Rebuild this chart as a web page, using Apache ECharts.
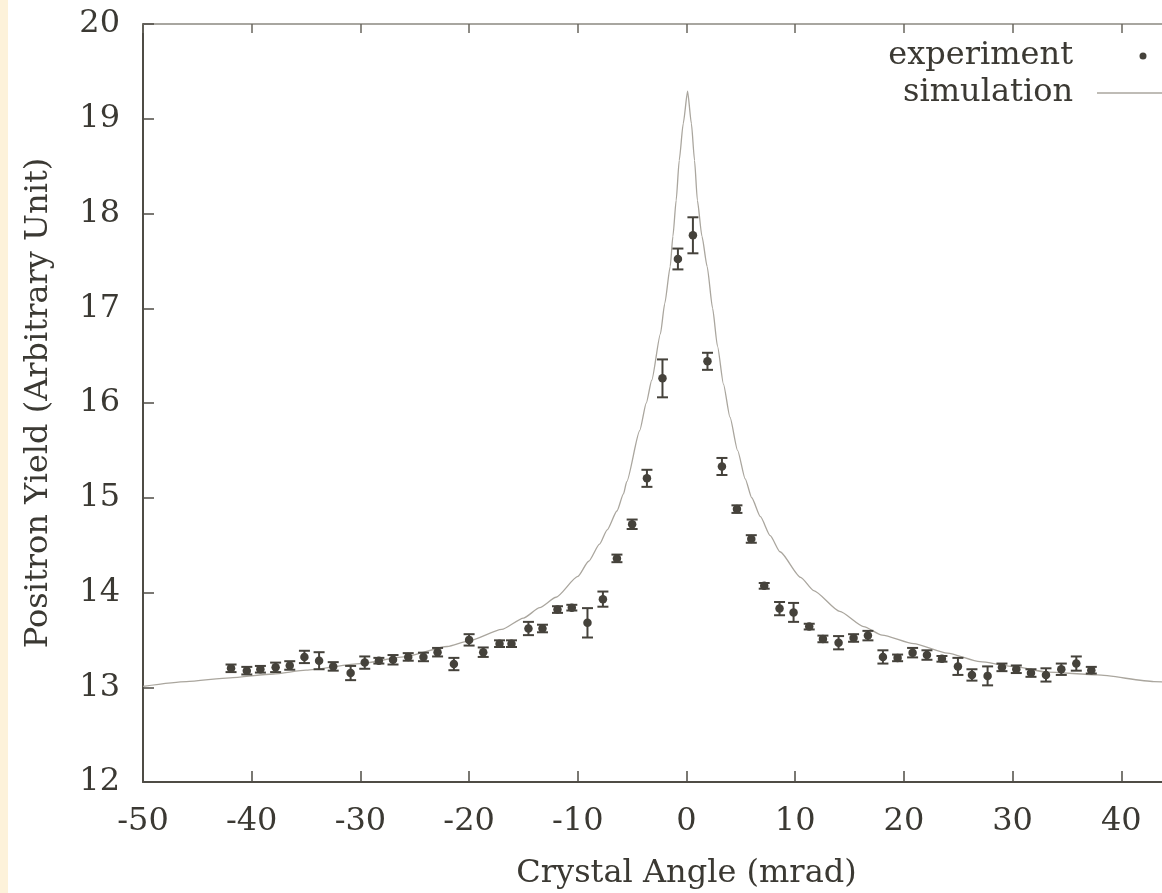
<!DOCTYPE html>
<html>
<head>
<meta charset="utf-8">
<script src="https://cdn.jsdelivr.net/npm/echarts@6/dist/echarts.min.js"></script>
<style>
  html, body { margin: 0; padding: 0; }
  body { background: linear-gradient(to right, #fdf2da 0, #fdf2da 8px, #ffffff 8px); }
  #chart { width: 1162px; height: 893px; }
</style>
</head>
<body>
<div id="chart"></div>
<script>
// Experiment: crystal angle (mrad), positron yield, error
const expX = [-41.9, -40.45, -39.2, -37.8, -36.5, -35.15, -33.8, -32.5, -30.9, -29.6,
  -28.3, -27.0, -25.6, -24.2, -22.9, -21.4, -20.0, -18.7, -17.2, -16.1,
  -14.54, -13.25, -11.87, -10.55, -9.11, -7.69, -6.4, -5.0, -3.64, -2.21,
  -0.79, 0.59, 1.93, 3.26, 4.64, 5.96, 7.15, 8.56, 9.85, 11.29,
  12.55, 13.99, 15.37, 16.69, 18.07, 19.42, 20.8, 22.12, 23.5, 24.97,
  26.26, 27.7, 29.02, 30.34, 31.69, 33.07, 34.48, 35.86, 37.24];
const expY = [13.20, 13.175, 13.19, 13.21, 13.23, 13.32, 13.28, 13.22, 13.15, 13.26,
  13.28, 13.29, 13.32, 13.32, 13.37, 13.245, 13.50, 13.37, 13.46, 13.46,
  13.62, 13.62, 13.82, 13.84, 13.68, 13.93, 14.36, 14.72, 15.205, 16.26,
  17.52, 17.77, 16.44, 15.33, 14.88, 14.565, 14.07, 13.83, 13.79, 13.64,
  13.51, 13.47, 13.52, 13.545, 13.32, 13.31, 13.365, 13.34, 13.30, 13.22,
  13.13, 13.12, 13.21, 13.19, 13.15, 13.13, 13.19, 13.25, 13.18];
const expErr = [0.04, 0.04, 0.035, 0.05, 0.045, 0.065, 0.09, 0.045, 0.075, 0.065,
  0.03, 0.05, 0.04, 0.045, 0.045, 0.065, 0.06, 0.05, 0.035, 0.035,
  0.07, 0.04, 0.035, 0.03, 0.155, 0.08, 0.04, 0.05, 0.09, 0.2,
  0.11, 0.19, 0.09, 0.09, 0.04, 0.04, 0.03, 0.07, 0.1, 0.03,
  0.035, 0.07, 0.04, 0.05, 0.07, 0.035, 0.05, 0.05, 0.03, 0.09,
  0.06, 0.1, 0.04, 0.04, 0.04, 0.07, 0.06, 0.075, 0.035];

// Simulation curve
const simX = [-50, -46, -42, -38, -35, -30, -26, -22, -20, -17,
  -15, -13.5, -12, -10, -9, -8, -7.3, -6.4, -5.8, -5.5,
  -4.3, -3.7, -3.2, -2.4, -2.0, -1.5, -1.25, -0.95, -0.67, -0.3,
  0.1, 0.45, 0.74, 1.0, 1.42, 1.9, 2.4, 2.85, 3.4, 4.0,
  4.7, 5.4, 6.0, 6.8, 7.7, 8.6, 10.5, 11.7, 14.1, 16.3,
  18, 20.9, 24, 27, 30, 33.2, 37.8, 43, 50];
const simY = [13.01, 13.06, 13.10, 13.14, 13.18, 13.25, 13.32, 13.43, 13.49, 13.61,
  13.73, 13.84, 13.95, 14.17, 14.33, 14.51, 14.66, 14.86, 15.04, 15.17,
  15.71, 16.00, 16.24, 16.73, 17.05, 17.44, 17.76, 18.14, 18.56, 18.95,
  19.29, 18.95, 18.56, 18.14, 17.76, 17.44, 17.00, 16.60, 16.20, 15.85,
  15.50, 15.20, 15.00, 14.80, 14.60, 14.43, 14.16, 14.02, 13.80, 13.64,
  13.55, 13.46, 13.36, 13.27, 13.22, 13.16, 13.13, 13.06, 13.00];

const xTitle = 'Crystal Angle (mrad)';
const yTitle = 'Positron Yield (Arbitrary Unit)';

const FONT = 'DejaVu Serif';
const TXT = '#3b3933';
const PT = '#45423b';
const SIM = '#aaa69e';

const expData = expX.map((x, i) => [x, expY[i], expErr[i]]);
const simData = simX.map((x, i) => [x, simY[i]]);

const chart = echarts.init(document.getElementById('chart'), null, { renderer: 'canvas' });

const legendText = { fontFamily: FONT, fontSize: 32, color: TXT, lineHeight: 32, padding: [0, 19, 0, 0] };

chart.setOption({
  backgroundColor: 'transparent',
  animation: false,
  grid: { left: 143, top: 24, right: -68, bottom: 111, outerBoundsMode: 'none', containLabel: false },
  legend: [
    {
      data: [{ name: 'experiment', icon: 'circle' }],
      right: 15.5, top: 40, padding: 0,
      align: 'right', itemWidth: 92, itemHeight: 7,
      selectedMode: false,
      textStyle: legendText
    },
    {
      data: [{ name: 'simulation', icon: 'rect' }],
      right: -27, top: 77, padding: 0,
      align: 'right', itemWidth: 92, itemHeight: 1.3,
      selectedMode: false,
      textStyle: legendText
    }
  ],
  xAxis: [
    {
      type: 'value', position: 'bottom', min: -50, max: 50, interval: 10,
      name: xTitle, nameLocation: 'middle', nameGap: 76,
      nameTextStyle: { fontFamily: FONT, fontSize: 32, color: TXT },
      axisLine: { show: true, onZero: false, lineStyle: { color: '#4f4c45', width: 2 } },
      axisTick: { show: true, inside: true, length: 11, lineStyle: { color: '#4f4c45', width: 1.5 } },
      axisLabel: { fontFamily: FONT, fontSize: 32, color: TXT, margin: 24 },
      splitLine: { show: false }
    },
    {
      type: 'value', position: 'top', min: -50, max: 50, interval: 10,
      axisLine: { show: true, onZero: false, lineStyle: { color: '#8c8981', width: 1.5 } },
      axisTick: { show: true, inside: true, length: 9, lineStyle: { color: '#6a675f', width: 1.5 } },
      axisLabel: { show: false },
      splitLine: { show: false }
    }
  ],
  yAxis: {
    type: 'value', min: 12, max: 20, interval: 1, position: 'left',
    name: yTitle, nameLocation: 'middle', nameGap: 88, nameRotate: 90,
    nameTextStyle: { fontFamily: FONT, fontSize: 32, color: TXT },
    axisLine: { show: true, onZero: false, lineStyle: { color: '#4f4c45', width: 2 } },
    axisTick: { show: true, inside: true, length: 11, lineStyle: { color: '#4f4c45', width: 1.5 } },
    axisLabel: { fontFamily: FONT, fontSize: 32, color: TXT, margin: 23 },
    splitLine: { show: false }
  },
  series: [
    {
      name: 'simulation', type: 'line', xAxisIndex: 0, data: simData,
      symbol: 'none', smooth: 0.2, smoothMonotone: 'x',
      lineStyle: { color: SIM, width: 1.3 },
      itemStyle: { color: SIM },
      z: 2
    },
    {
      name: 'experiment errors', type: 'custom', xAxisIndex: 0, data: expData,
      encode: { x: 0, y: 1 },
      itemStyle: { color: PT },
      z: 3,
      renderItem: function (params, api) {
        const x = api.value(0), y = api.value(1), e = api.value(2);
        const c = api.coord([x, y]);
        const hi = api.coord([x, y + e]);
        const lo = api.coord([x, y - e]);
        const cap = 5.5;
        const ls = { stroke: PT, lineWidth: 2 };
        return {
          type: 'group',
          children: [
            { type: 'line', shape: { x1: c[0], y1: hi[1], x2: c[0], y2: lo[1] }, style: ls },
            { type: 'line', shape: { x1: c[0] - cap, y1: hi[1], x2: c[0] + cap, y2: hi[1] }, style: ls },
            { type: 'line', shape: { x1: c[0] - cap, y1: lo[1], x2: c[0] + cap, y2: lo[1] }, style: ls }
          ]
        };
      }
    },
    {
      name: 'experiment', type: 'scatter', xAxisIndex: 0,
      data: expData.map(d => [d[0], d[1]]),
      symbol: 'circle', symbolSize: 8.5,
      itemStyle: { color: PT, opacity: 1 },
      z: 4
    }
  ]
});
</script>
</body>
</html>
